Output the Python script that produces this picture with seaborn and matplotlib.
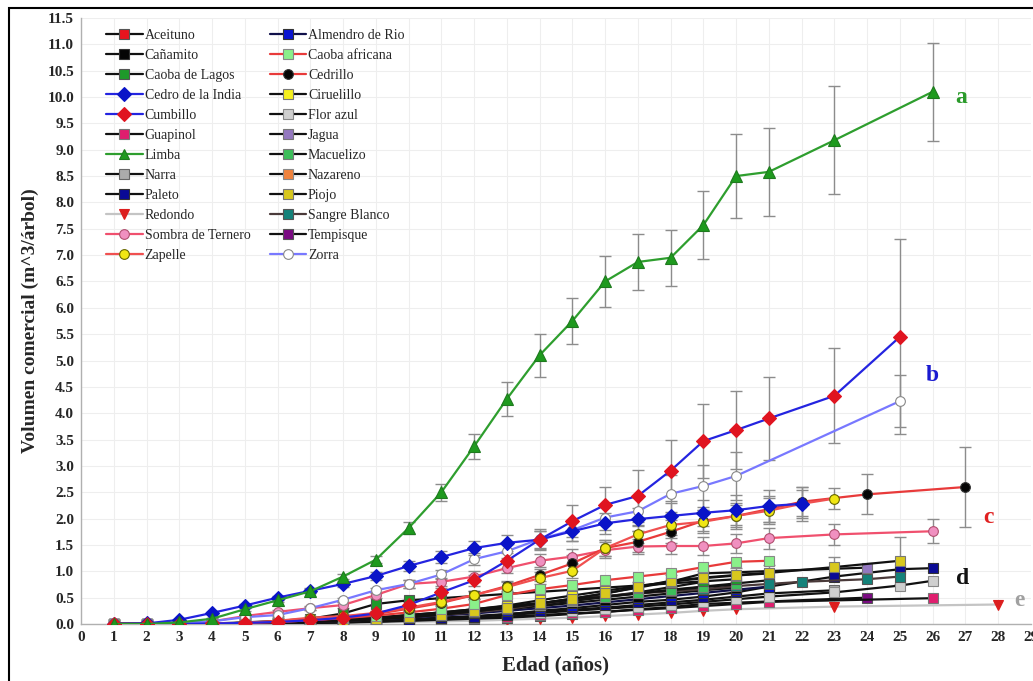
import numpy as np
import pandas as pd
import matplotlib
matplotlib.use("Agg")
import matplotlib.pyplot as plt
from matplotlib.lines import Line2D
from matplotlib.patches import Rectangle
import seaborn as sns

# === Data ===
edad_19 = list(range(1, 20))
edad_20 = list(range(1, 21))
edad_21 = list(range(1, 22))
edad_22 = list(range(1, 23))
edad_23 = list(range(1, 24))

aceituno_edad = edad_21
aceituno_vol = [0, 0, 0, 0.01, 0.02, 0.03, 0.05, 0.08, 0.11, 0.15, 0.2, 0.25, 0.31, 0.37, 0.44, 0.51, 0.58, 0.65, 0.71, 0.77, 0.83]

almendro_edad = edad_21
almendro_vol = [0, 0, 0, 0.01, 0.02, 0.03, 0.04, 0.06, 0.09, 0.12, 0.16, 0.2, 0.25, 0.3, 0.35, 0.41, 0.47, 0.53, 0.59, 0.65, 0.71]

canamito_edad = edad_20
canamito_vol = [0, 0, 0, 0.01, 0.02, 0.03, 0.05, 0.07, 0.1, 0.14, 0.18, 0.23, 0.28, 0.34, 0.4, 0.46, 0.52, 0.58, 0.64, 0.69]

caoba_afr_edad = edad_21
caoba_afr_vol = [0, 0, 0, 0.01, 0.02, 0.04, 0.07, 0.11, 0.16, 0.22, 0.29, 0.38, 0.55, 0.66, 0.74, 0.83, 0.9, 0.97, 1.08, 1.18, 1.2]

caoba_lagos_edad = edad_20
caoba_lagos_vol = [0, 0, 0, 0.01, 0.03, 0.06, 0.1, 0.2, 0.38, 0.45, 0.49, 0.53, 0.57, 0.61, 0.65, 0.69, 0.73, 0.77, 0.81, 0.85]

cedrillo_edad = edad_22 + [24, 27]
cedrillo_vol = [0, 0, 0, 0.01, 0.02, 0.04, 0.07, 0.12, 0.19, 0.29, 0.4, 0.55, 0.72, 0.93, 1.15, 1.44, 1.56, 1.75, 1.96, 2.05, 2.18, 2.32, 2.46, 2.6]
cedrillo_err = [0, 0, 0, 0, 0.01, 0.01, 0.02, 0.03, 0.04, 0.05, 0.06, 0.08, 0.1, 0.12, 0.15, 0.15, 0.2, 0.22, 0.2, 0.2, 0.25, 0.28, 0.38, 0.75]

cedro_edad = edad_22
cedro_vol = [0, 0.01, 0.08, 0.21, 0.35, 0.5, 0.63, 0.76, 0.91, 1.1, 1.27, 1.44, 1.54, 1.6, 1.76, 1.91, 1.99, 2.05, 2.11, 2.16, 2.24, 2.28]
cedro_err = [0, 0, 0.01, 0.02, 0.03, 0.04, 0.05, 0.06, 0.07, 0.1, 0.12, 0.14, 0.15, 0.17, 0.18, 0.2, 0.22, 0.24, 0.25, 0.28, 0.3, 0.32]

ciruelillo_edad = edad_21
ciruelillo_vol = [0, 0, 0, 0.01, 0.02, 0.03, 0.05, 0.08, 0.12, 0.17, 0.22, 0.28, 0.35, 0.45, 0.54, 0.63, 0.72, 0.8, 0.87, 0.92, 0.96]

cumbillo_edad = edad_21 + [23, 25]
cumbillo_vol = [0, 0, 0, 0.01, 0.02, 0.04, 0.07, 0.12, 0.2, 0.36, 0.6, 0.83, 1.2, 1.6, 1.95, 2.26, 2.43, 2.91, 3.47, 3.68, 3.9, 4.33, 5.45]
cumbillo_err = [0, 0, 0, 0, 0.01, 0.01, 0.02, 0.03, 0.04, 0.06, 0.08, 0.1, 0.14, 0.2, 0.3, 0.34, 0.5, 0.58, 0.7, 0.74, 0.78, 0.9, 1.85]

flor_azul_edad = edad_21 + [23, 25, 26]
flor_azul_vol = [0, 0, 0, 0, 0.01, 0.02, 0.03, 0.04, 0.06, 0.08, 0.11, 0.14, 0.17, 0.21, 0.25, 0.29, 0.33, 0.37, 0.42, 0.47, 0.52, 0.6, 0.73, 0.82]

guapinol_edad = edad_21 + [26]
guapinol_vol = [0, 0, 0, 0, 0.01, 0.01, 0.02, 0.03, 0.05, 0.07, 0.09, 0.11, 0.14, 0.17, 0.2, 0.23, 0.27, 0.3, 0.34, 0.38, 0.42, 0.49]

jagua_edad = edad_19 + [24]
jagua_vol = [0, 0, 0, 0, 0.01, 0.02, 0.04, 0.06, 0.09, 0.13, 0.18, 0.24, 0.31, 0.39, 0.48, 0.58, 0.69, 0.8, 0.96, 1.07]

limba_edad = edad_21 + [23, 26]
limba_vol = [0, 0, 0.03, 0.1, 0.28, 0.45, 0.62, 0.9, 1.22, 1.82, 2.5, 3.37, 4.27, 5.1, 5.75, 6.5, 6.87, 6.95, 7.57, 8.5, 8.58, 9.18, 10.1]
limba_err = [0, 0, 0.01, 0.02, 0.03, 0.03, 0.04, 0.05, 0.07, 0.11, 0.16, 0.23, 0.33, 0.41, 0.44, 0.49, 0.54, 0.53, 0.65, 0.8, 0.83, 1.02, 0.93]

macuelizo_edad = edad_20
macuelizo_vol = [0, 0, 0, 0.01, 0.02, 0.03, 0.05, 0.08, 0.12, 0.17, 0.22, 0.28, 0.34, 0.4, 0.46, 0.52, 0.58, 0.64, 0.7, 0.75]

narra_edad = edad_21 + [23]
narra_vol = [0, 0, 0, 0, 0.01, 0.02, 0.03, 0.05, 0.07, 0.09, 0.12, 0.15, 0.19, 0.23, 0.27, 0.31, 0.36, 0.41, 0.46, 0.52, 0.58, 0.64]

nazareno_edad = edad_19
nazareno_vol = [0, 0, 0, 0, 0.01, 0.02, 0.04, 0.07, 0.1, 0.14, 0.19, 0.24, 0.3, 0.37, 0.44, 0.52, 0.6, 0.7, 0.8]

paleto_edad = edad_21 + [23, 25, 26]
paleto_vol = [0, 0, 0, 0, 0.01, 0.02, 0.03, 0.04, 0.06, 0.08, 0.11, 0.14, 0.18, 0.25, 0.3, 0.36, 0.42, 0.46, 0.52, 0.6, 0.71, 0.9, 1.04, 1.06]

piojo_edad = edad_21 + [23, 25]
piojo_vol = [0, 0, 0, 0, 0.01, 0.02, 0.04, 0.06, 0.09, 0.13, 0.18, 0.24, 0.31, 0.39, 0.48, 0.58, 0.7, 0.82, 0.88, 0.93, 0.97, 1.08, 1.2]
piojo_err = [0, 0, 0, 0, 0, 0.01, 0.01, 0.02, 0.02, 0.03, 0.04, 0.05, 0.06, 0.07, 0.08, 0.09, 0.1, 0.11, 0.12, 0.13, 0.15, 0.2, 0.45]

redondo_edad = edad_20 + [23, 28]
redondo_vol = [0, 0, 0, 0, 0, 0.01, 0.01, 0.02, 0.03, 0.04, 0.05, 0.06, 0.08, 0.1, 0.12, 0.15, 0.18, 0.21, 0.25, 0.28, 0.33, 0.37]

sangre_edad = edad_22 + [24, 25]
sangre_vol = [0, 0, 0, 0, 0.01, 0.02, 0.04, 0.06, 0.09, 0.13, 0.17, 0.22, 0.28, 0.38, 0.47, 0.53, 0.58, 0.62, 0.66, 0.72, 0.76, 0.8, 0.85, 0.9]

sombra_edad = edad_21 + [23, 26]
sombra_vol = [0, 0, 0, 0.05, 0.15, 0.23, 0.3, 0.36, 0.55, 0.76, 0.8, 0.9, 1.06, 1.2, 1.28, 1.4, 1.47, 1.48, 1.48, 1.53, 1.63, 1.7, 1.76]
sombra_err = [0, 0, 0, 0.01, 0.02, 0.03, 0.04, 0.05, 0.06, 0.07, 0.08, 0.1, 0.1, 0.12, 0.14, 0.15, 0.15, 0.16, 0.17, 0.18, 0.2, 0.2, 0.23]

tempisque_edad = edad_19 + [24]
tempisque_vol = [0, 0, 0, 0, 0.01, 0.01, 0.02, 0.03, 0.04, 0.06, 0.08, 0.1, 0.12, 0.15, 0.19, 0.23, 0.28, 0.32, 0.38, 0.5]

zapelle_edad = edad_23
zapelle_vol = [0, 0, 0, 0.01, 0.02, 0.06, 0.12, 0.15, 0.21, 0.31, 0.42, 0.55, 0.7, 0.87, 1.01, 1.44, 1.7, 1.88, 1.94, 2.05, 2.15, 2.28, 2.38]
zapelle_err = [0, 0, 0, 0, 0.01, 0.02, 0.02, 0.03, 0.04, 0.05, 0.06, 0.08, 0.1, 0.12, 0.14, 0.15, 0.17, 0.2, 0.22, 0.24, 0.25, 0.27, 0.2]

zorra_edad = edad_20 + [25]
zorra_vol = [0, 0, 0.02, 0.05, 0.13, 0.17, 0.3, 0.46, 0.64, 0.76, 0.94, 1.23, 1.38, 1.61, 1.78, 2.02, 2.14, 2.47, 2.62, 2.81, 4.23]
zorra_err = [0, 0, 0, 0.01, 0.02, 0.02, 0.03, 0.04, 0.05, 0.07, 0.09, 0.11, 0.13, 0.16, 0.2, 0.24, 0.28, 0.35, 0.4, 0.45, 0.5]

# name, ages, values, errors  (legend order = alphabetical, row-wise)
series = [
    ("Aceituno", aceituno_edad, aceituno_vol, None),
    ("Almendro de Rio", almendro_edad, almendro_vol, None),
    ("Cañamito", canamito_edad, canamito_vol, None),
    ("Caoba africana", caoba_afr_edad, caoba_afr_vol, None),
    ("Caoba de Lagos", caoba_lagos_edad, caoba_lagos_vol, None),
    ("Cedrillo", cedrillo_edad, cedrillo_vol, cedrillo_err),
    ("Cedro de la India", cedro_edad, cedro_vol, cedro_err),
    ("Ciruelillo", ciruelillo_edad, ciruelillo_vol, None),
    ("Cumbillo", cumbillo_edad, cumbillo_vol, cumbillo_err),
    ("Flor azul", flor_azul_edad, flor_azul_vol, None),
    ("Guapinol", guapinol_edad, guapinol_vol, None),
    ("Jagua", jagua_edad, jagua_vol, None),
    ("Limba", limba_edad, limba_vol, limba_err),
    ("Macuelizo", macuelizo_edad, macuelizo_vol, None),
    ("Narra", narra_edad, narra_vol, None),
    ("Nazareno", nazareno_edad, nazareno_vol, None),
    ("Paleto", paleto_edad, paleto_vol, None),
    ("Piojo", piojo_edad, piojo_vol, piojo_err),
    ("Redondo", redondo_edad, redondo_vol, None),
    ("Sangre Blanco", sangre_edad, sangre_vol, None),
    ("Sombra de Ternero", sombra_edad, sombra_vol, sombra_err),
    ("Tempisque", tempisque_edad, tempisque_vol, None),
    ("Zapelle", zapelle_edad, zapelle_vol, zapelle_err),
    ("Zorra", zorra_edad, zorra_vol, zorra_err),
]

# line colour, marker, face colour, edge colour
estilos = {
    "Aceituno": ("#111111", "s", "#e8141e", "#555555"),
    "Almendro de Rio": ("#10104a", "s", "#0a14d2", "#333333"),
    "Cañamito": ("#111111", "s", "#050505", "#333333"),
    "Caoba africana": ("#e83a3a", "s", "#8af08a", "#888888"),
    "Caoba de Lagos": ("#111111", "s", "#1e9a2a", "#555555"),
    "Cedrillo": ("#e83a3a", "o", "#050505", "#333333"),
    "Cedro de la India": ("#2424e0", "D", "#0a14c8", "#0a14c8"),
    "Ciruelillo": ("#111111", "s", "#f5f01e", "#777777"),
    "Cumbillo": ("#2424e0", "D", "#e01420", "#e01420"),
    "Flor azul": ("#111111", "s", "#cfcfcf", "#888888"),
    "Guapinol": ("#111111", "s", "#e01e6e", "#777777"),
    "Jagua": ("#111111", "s", "#9478c0", "#777777"),
    "Limba": ("#2e9e2e", "^", "#1e9a1e", "#1e7a1e"),
    "Macuelizo": ("#111111", "s", "#3cbe5a", "#777777"),
    "Narra": ("#111111", "s", "#ababab", "#666666"),
    "Nazareno": ("#111111", "s", "#f0823c", "#888888"),
    "Paleto": ("#111111", "s", "#0a0a96", "#333333"),
    "Piojo": ("#111111", "s", "#d8c81e", "#777777"),
    "Redondo": ("#c4c4c4", "v", "#dc1e1e", "#dc1e1e"),
    "Sangre Blanco": ("#4a3a3a", "s", "#14827a", "#555555"),
    "Sombra de Ternero": ("#f0506e", "o", "#f090c0", "#b05070"),
    "Tempisque": ("#111111", "s", "#7a0a82", "#555555"),
    "Zapelle": ("#f05050", "o", "#f0e614", "#666600"),
    "Zorra": ("#7878ff", "o", "#ffffff", "#888888"),
}

# draw order: gray/black cluster first, leading species last
orden = ["Redondo", "Tempisque", "Guapinol", "Narra", "Flor azul", "Paleto", "Almendro de Rio",
         "Cañamito", "Aceituno", "Nazareno", "Sangre Blanco", "Macuelizo", "Caoba de Lagos",
         "Jagua", "Ciruelillo", "Piojo", "Caoba africana", "Sombra de Ternero", "Cedrillo",
         "Zapelle", "Zorra", "Cedro de la India", "Cumbillo", "Limba"]

rows = []
for nombre, edad, vol, err in series:
    d = pd.DataFrame({"edad": edad, "vol": vol})
    d["err"] = err if err is not None else np.nan
    d["especie"] = nombre
    rows.append(d)
df = pd.concat(rows, ignore_index=True)

# === Plot ===
sns.set_theme(style="whitegrid")
plt.rcParams["font.family"] = ["Liberation Serif", "DejaVu Serif"]

fig = plt.figure(figsize=(10.33, 6.81), dpi=100)
ax = fig.add_axes([0.0784, 0.0837, 0.9196, 0.8899])

for nombre in orden:
    sub = df[df["especie"] == nombre]
    lc, mk, fc, ec = estilos[nombre]
    if sub["err"].notna().any():
        ax.errorbar(sub["edad"], sub["vol"], yerr=sub["err"], fmt="none",
                    ecolor="#8c8c8c", elinewidth=1.0, capsize=4, capthick=1.0, zorder=1)
    ms = 8 if mk == "^" else 7
    sns.lineplot(data=sub, x="edad", y="vol", ax=ax, estimator=None, errorbar=None,
                 color=lc, lw=1.6, marker=mk, markersize=ms, markerfacecolor=fc,
                 markeredgecolor=ec, markeredgewidth=0.8, zorder=3, legend=False)

ax.set_xlim(0, 29)
ax.set_ylim(0, 11.5)
ax.set_xticks(np.arange(0, 30, 1))
ax.set_yticks(np.arange(0, 11.51, 0.5))
ax.set_yticklabels([f"{v:.1f}" for v in np.arange(0, 11.51, 0.5)])
ax.grid(True, color="#eeeeee", lw=0.8)
for s in ["top", "right"]:
    ax.spines[s].set_visible(False)
for s in ["left", "bottom"]:
    ax.spines[s].set_visible(True)
    ax.spines[s].set_color("#b0b0b0")
    ax.spines[s].set_linewidth(1.0)
ax.tick_params(axis="both", labelsize=11, length=3, color="#999999", pad=2)
for lbl in ax.get_xticklabels() + ax.get_yticklabels():
    lbl.set_fontweight("bold")

ax.set_xlabel("Edad (años)", fontsize=15, fontweight="bold", labelpad=8)
ax.set_ylabel("Volumen comercial (m^3/árbol)", fontsize=14, fontweight="bold", labelpad=6)

# group letters
for x, y, t, c in [(26.7, 10.0, "a", "#2a9a2a"), (25.8, 4.72, "b", "#1a1ad0"),
                   (27.55, 2.03, "c", "#e02020"), (26.7, 0.87, "d", "#111111"),
                   (28.5, 0.44, "e", "#a0a0a0")]:
    ax.text(x, y, t, color=c, fontsize=17, fontweight="bold", ha="left", va="center")

# legend (row-wise alphabetical, two columns)
handles = []
for nombre, _, _, _ in series:
    lc, mk, fc, ec = estilos[nombre]
    handles.append(Line2D([], [], color=lc, lw=1.6, marker=mk, markersize=7,
                          markerfacecolor=fc, markeredgecolor=ec, markeredgewidth=0.8))
names = [s[0] for s in series]
order = list(range(0, len(names), 2)) + list(range(1, len(names), 2))
ax.legend([handles[i] for i in order], [names[i] for i in order], ncol=2,
          loc="upper left", bbox_to_anchor=(0.018, 0.995), frameon=False,
          fontsize=10, handlelength=2.6, handletextpad=0.15, columnspacing=1.4,
          labelspacing=0.5, borderaxespad=0.2)

# outer frame
fig.patches.append(Rectangle((0.009, -0.01), 1.5, 0.998, transform=fig.transFigure,
                             fill=False, ec="black", lw=1.5))

fig.savefig("out.png", dpi=100)
